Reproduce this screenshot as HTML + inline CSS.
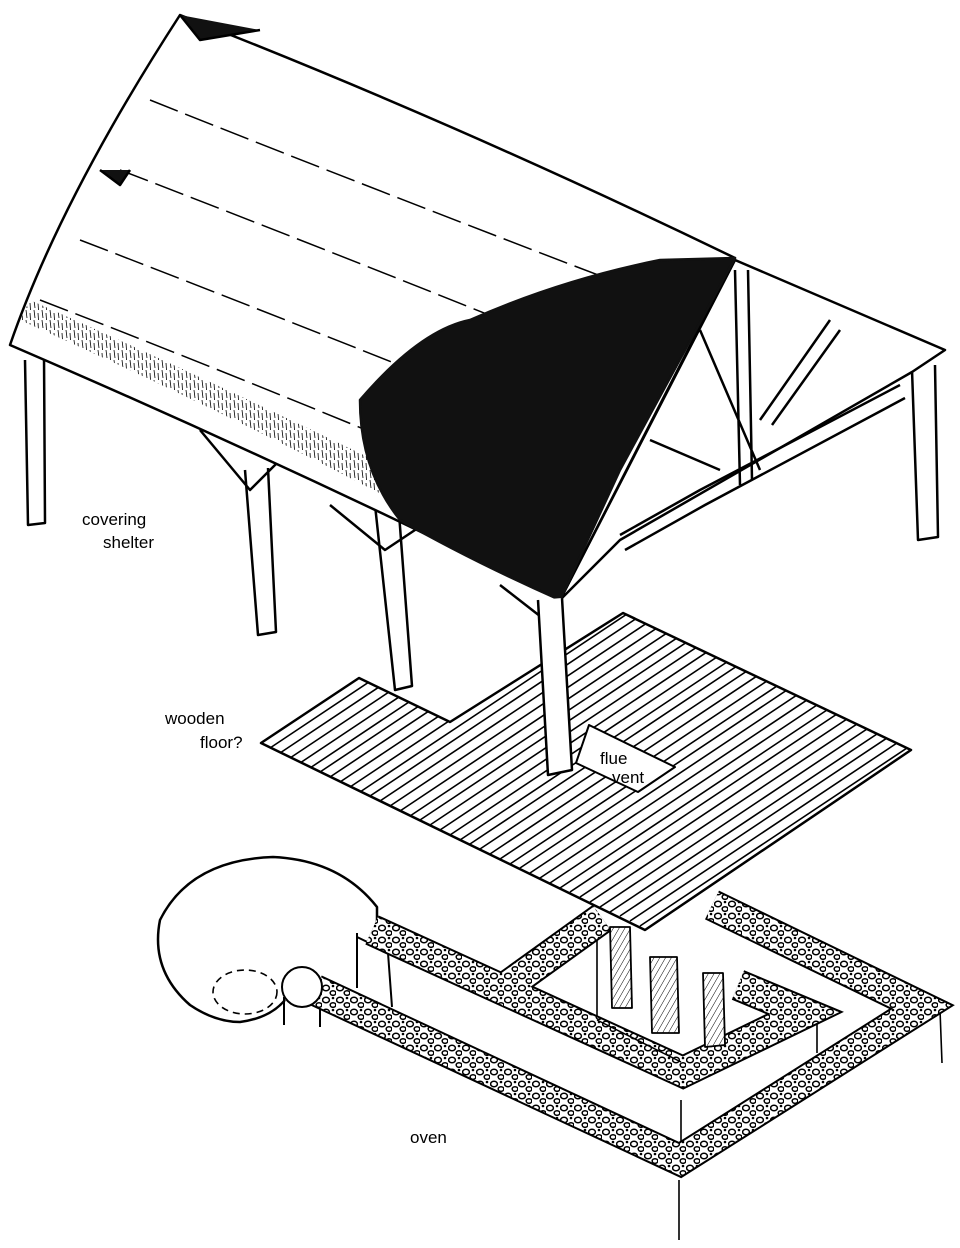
<!DOCTYPE html>
<html><head><meta charset="utf-8"><style>
html,body{margin:0;padding:0;background:#fff}
svg{display:block}
text{font-family:"Liberation Sans",sans-serif;font-size:17px;fill:#000}
</style></head><body>
<svg width="960" height="1248" viewBox="0 0 960 1248" xmlns="http://www.w3.org/2000/svg">
<defs>
<pattern id="rub" width="14" height="12" patternUnits="userSpaceOnUse">
<rect width="14" height="12" fill="#fff"/>
<ellipse cx="4" cy="4" rx="3.4" ry="2.7" fill="none" stroke="#000" stroke-width="1.5"/>
<ellipse cx="11" cy="9" rx="2.8" ry="2.3" fill="none" stroke="#000" stroke-width="1.5"/>
<circle cx="11" cy="2" r="1.3" fill="#000"/>
</pattern>
<pattern id="th" width="8" height="10" patternUnits="userSpaceOnUse">
<path d="M2 0 L3 8 M6 3 L6.5 10" stroke="#000" stroke-width="0.8"/>
</pattern>
<clipPath id="fl"><path d="M261 743 L359 678 L450 722 L623 613 L911 750 L645 930 Z"/></clipPath>
<pattern id="hat" width="5" height="5" patternUnits="userSpaceOnUse" patternTransform="rotate(30)">
<rect width="5" height="5" fill="#fff"/><path d="M0 0 L0 5" stroke="#000" stroke-width="1"/>
</pattern>
</defs>
<g fill="none" stroke="#000" stroke-width="2.5" stroke-linejoin="round">
<!-- posts -->
<path d="M25 360 L28 525 L45 523 L44 355" fill="#fff"/>
<path d="M245 470 L258 635 L276 632 L268 468" fill="#fff"/>
<path d="M375 505 L395 690 L412 686 L398 500" fill="#fff"/>
<path d="M912 370 L918 540 L938 537 L935 365" fill="#fff"/>
<!-- braces -->
<path d="M200 430 L250 490 L290 450"/>
<path d="M330 505 L385 550 L430 520"/>
<path d="M500 585 L545 620"/>
<!-- gable truss -->
<path d="M560 600 L735 260 L945 350 L912 372 L620 540 Z" fill="#fff"/>
<path d="M735 270 L740 485 M748 270 L752 480 M700 330 L760 470 M760 420 L830 320 M772 425 L840 330 M620 535 L700 490 L900 385 M625 550 L705 505 L905 398"/>
<path d="M650 440 L720 470"/>
<!-- roof -->
<path d="M180 15 Q450 120 735 258 L560 600 Q300 470 10 345 Q60 200 180 15 Z" fill="#fff"/>
<path d="M20 320 Q290 440 560 590 L575 560 Q300 420 30 300 Z" fill="url(#th)" stroke="none"/>
<path d="M150 100 Q400 200 690 310 M120 170 Q380 270 650 380 M80 240 Q340 340 610 450 M40 300 Q300 400 580 520" stroke-dasharray="30 8" stroke-width="1.5"/>
<!-- dark thatch -->
<path d="M360 400 Q420 330 470 320 Q560 280 660 260 L735 258 L620 470 L560 600 Q470 560 400 520 Q360 470 360 400 Z" fill="#111" stroke="#111"/>
<path d="M180 15 L200 40 L260 30" fill="#111"/>
<path d="M100 170 L120 185 L130 170" fill="#111"/>
<!-- floor -->
<path d="M261 743 L359 678 L450 722 L623 613 L911 750 L645 930 Z" fill="#fff"/>
<g clip-path="url(#fl)" stroke-width="1.6">
<path d="M270 748 l300 -200 M280 753 l300 -200 M290 758 l300 -200 M300 763 l300 -200 M310 768 l300 -200 M320 772 l300 -200 M330 777 l300 -200 M340 782 l300 -200 M350 787 l300 -200 M360 792 l300 -200 M370 796 l300 -200 M380 801 l300 -200 M390 806 l300 -200 M400 811 l300 -200 M410 816 l300 -200 M420 820 l300 -200 M430 825 l300 -200 M440 830 l300 -200 M450 835 l300 -200 M460 840 l300 -200 M470 844 l300 -200 M480 849 l300 -200 M490 854 l300 -200 M500 859 l300 -200 M510 864 l300 -200 M520 868 l300 -200 M530 873 l300 -200 M540 878 l300 -200 M550 883 l300 -200 M560 888 l300 -200 M570 892 l300 -200 M580 897 l300 -200 M590 902 l300 -200 M600 907 l300 -200 M610 912 l300 -200 M620 916 l300 -200 M630 921 l300 -200 M640 926 l300 -200"/>
</g>
<path d="M589 725 L675 767 L638 792 L576 763 Z" fill="#fff" stroke-width="2"/>
<!-- front post through floor -->
<path d="M538 600 L548 775 L572 770 L562 598" fill="#fff"/>
<!-- oven blob -->
<path d="M377 923 L377 907 Q340 860 273 857 Q190 860 160 920 Q150 970 190 1005 Q215 1022 240 1022 Q270 1018 285 1000" fill="#fff"/>
<ellipse cx="245" cy="992" rx="32" ry="22" stroke-dasharray="7 5" stroke-width="1.6"/>
<path d="M284 997 L284 1025 M320 1003 L320 1027 M357 933 L357 988 M388 953 L392 1007 M357 937 L388 952" stroke-width="2"/>
<!-- wall faces -->
<path d="M681 1100 L681 1143 M940 1010 L942 1063 M817 1013 L817 1053 M597 930 L597 1020 M679 1180 L679 1240" stroke-width="1.6"/>
<!-- rubble walls -->
<g stroke="#000" stroke-width="32" stroke-linejoin="miter" fill="none">
<path d="M315 990 L680 1160 L922 1007 L712 905"/>
<path d="M372 930 L683 1072 L805 1013 L738 985"/>
<path d="M495 995 L602 918"/>
</g>
<g stroke="url(#rub)" stroke-width="28" stroke-linejoin="miter" fill="none">
<path d="M315 990 L680 1160 L922 1007 L712 905"/>
<path d="M372 930 L683 1072 L805 1013 L738 985"/>
<path d="M495 995 L602 918"/>
</g>
<circle cx="302" cy="987" r="20" fill="#fff" stroke-width="2"/>
<!-- flue columns -->
<path d="M610 927 L612 1008 L632 1008 L630 927 Z M650 957 L652 1033 L679 1033 L677 957 Z M703 973 L705 1047 L725 1045 L723 973 Z" fill="url(#hat)" stroke-width="1.8"/>
<path d="M597 1020 L681 1062" stroke-width="1.5"/>
</g>
<text x="82" y="525">covering</text>
<text x="103" y="548">shelter</text>
<text x="165" y="724">wooden</text>
<text x="200" y="748">floor?</text>
<text x="600" y="764">flue</text>
<text x="612" y="783">vent</text>
<text x="410" y="1143">oven</text>
</svg>
</body></html>
